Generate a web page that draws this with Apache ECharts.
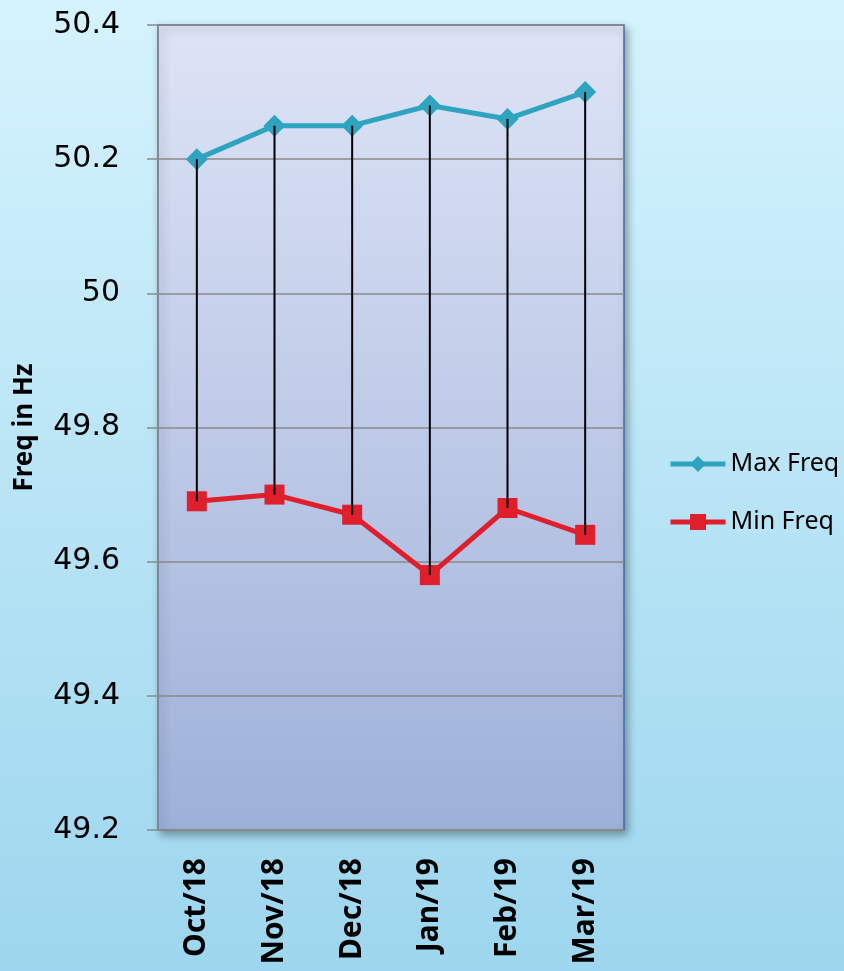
<!DOCTYPE html>
<html>
<head>
<meta charset="utf-8">
<script src="https://cdn.jsdelivr.net/npm/echarts@6/dist/echarts.min.js"></script>
<style>
html,body{margin:0;padding:0;}
#chart{width:844px;height:971px;}
</style>
</head>
<body>
<div id="chart"></div>
<script>
var categories = ['Oct/18', 'Nov/18', 'Dec/18', 'Jan/19', 'Feb/19', 'Mar/19'];
var maxFreq = [50.20, 50.25, 50.25, 50.28, 50.26, 50.30];
var minFreq = [49.69, 49.70, 49.67, 49.58, 49.68, 49.64];
var seriesNames = ['Max Freq', 'Min Freq'];
var yAxisTitle = 'Freq in Hz';

var dropData = categories.map(function (c, i) { return [i, maxFreq[i], minFreq[i]]; });

var chart = echarts.init(document.getElementById('chart'));
chart.setOption({
  backgroundColor: new echarts.graphic.LinearGradient(0, 0, 0, 1, [
    {offset: 0, color: '#d5f3fd'},
    {offset: 1, color: '#9dd6ee'}
  ]),
  animation: false,
  grid: {
    left: 158, right: 220, top: 25, bottom: 141,
    outerBoundsMode: 'none',
    containLabel: false,
    show: true,
    backgroundColor: new echarts.graphic.LinearGradient(0, 0, 0, 1, [
      {offset: 0, color: '#dee4f6'},
      {offset: 1, color: '#9eb0d9'}
    ]),
    borderColor: '#4a6aa5',
    borderWidth: 1.5,
    shadowBlur: 8,
    shadowOffsetX: 3,
    shadowOffsetY: 4,
    shadowColor: 'rgba(0,0,0,0.35)'
  },
  legend: {
    orient: 'vertical',
    left: 663,
    top: 445,
    data: seriesNames,
    itemWidth: 55,
    itemHeight: 20,
    itemGap: 30,
    lineStyle: {width: 5},
    textStyle: {fontFamily: 'Noto Sans', fontSize: 25, color: '#000', lineHeight: 28}
  },
  xAxis: {
    type: 'category',
    data: categories,
    boundaryGap: true,
    axisLine: {lineStyle: {color: '#8a8a8a', width: 1.5}},
    axisTick: {show: false},
    axisLabel: {
      rotate: 90,
      margin: 28,
      fontFamily: 'Noto Sans',
      fontWeight: 'bold',
      fontSize: 30,
      color: '#000'
    }
  },
  yAxis: {
    type: 'value',
    min: 49.2,
    max: 50.4,
    interval: 0.2,
    name: yAxisTitle,
    nameLocation: 'middle',
    nameGap: 120,
    nameRotate: 90,
    nameTextStyle: {fontFamily: 'Noto Sans', fontWeight: 'bold', fontSize: 26, color: '#000'},
    axisLine: {show: true, lineStyle: {color: '#8a8a8a', width: 1.5}},
    axisTick: {show: true, length: 11, lineStyle: {color: '#8a8a8a', width: 1.5}},
    splitLine: {lineStyle: {color: '#8a8a8a', width: 1.5}},
    axisLabel: {
      margin: 38,
      fontFamily: 'DejaVu Sans',
      fontSize: 30,
      color: '#000',
      formatter: function (v) { return String(+v.toFixed(1)); }
    }
  },
  series: [
    {
      name: seriesNames[0],
      type: 'line',
      data: maxFreq,
      symbol: 'diamond',
      symbolSize: 22,
      lineStyle: {color: '#2ea4c1', width: 5},
      itemStyle: {color: '#2ea4c1'},
      z: 3
    },
    {
      name: seriesNames[1],
      type: 'line',
      data: minFreq,
      symbol: 'rect',
      symbolSize: 20,
      lineStyle: {color: '#df1f2b', width: 5},
      itemStyle: {color: '#df1f2b'},
      z: 3
    },
    {
      name: 'hilo',
      type: 'custom',
      data: dropData,
      encode: {x: 0, y: [1, 2]},
      z: 5,
      renderItem: function (params, api) {
        var p1 = api.coord([api.value(0), api.value(1)]);
        var p2 = api.coord([api.value(0), api.value(2)]);
        return {
          type: 'line',
          shape: {x1: p1[0], y1: p1[1], x2: p2[0], y2: p2[1]},
          style: {stroke: '#000', lineWidth: 2}
        };
      }
    }
  ]
});
</script>
</body>
</html>
